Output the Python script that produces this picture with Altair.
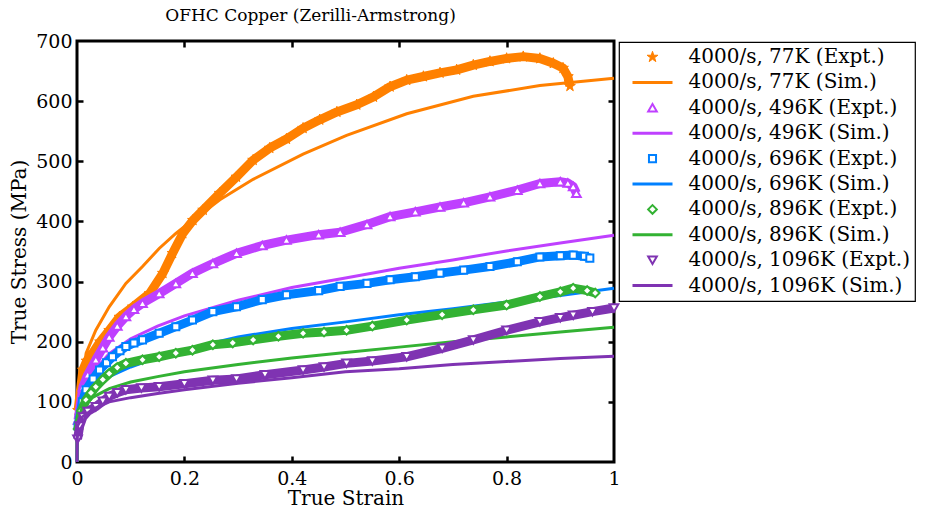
import altair as alt
import pandas as pd

FONT = "DejaVu Serif"
TITLE = "OFHC Copper (Zerilli-Armstrong)"
X_TITLE = "True Strain"
Y_TITLE = "True Stress (MPa)"
x_tick_values = [0, 0.2, 0.4, 0.6, 0.8, 1]
y_tick_values = [0, 100, 200, 300, 400, 500, 600, 700]
x_inner_ticks = [0.2, 0.4, 0.6, 0.8]
y_inner_ticks = [100, 200, 300, 400, 500, 600]

series_labels = [
    "4000/s, 77K (Expt.)", "4000/s, 77K (Sim.)",
    "4000/s, 496K (Expt.)", "4000/s, 496K (Sim.)",
    "4000/s, 696K (Expt.)", "4000/s, 696K (Sim.)",
    "4000/s, 896K (Expt.)", "4000/s, 896K (Sim.)",
    "4000/s, 1096K (Expt.)", "4000/s, 1096K (Sim.)",
]
series_colors = ["#ff8000", "#ff8000", "#bf40ff", "#bf40ff", "#0080ff", "#0080ff",
                 "#33b233", "#33b233", "#7f33b2", "#7f33b2"]
STAR = ("M0,-1L0.2245,-0.309L0.9511,-0.309L0.3633,0.118L0.5878,0.809L0,0.382"
        "L-0.5878,0.809L-0.3633,0.118L-0.9511,-0.309L-0.2245,-0.309Z")
LINE = "M-4,0L4,0"
series_shapes = [STAR, LINE, "triangle-up", LINE, "square", LINE,
                 "diamond", LINE, "triangle-down", LINE]
series_sizes = [130, 100, 75, 100, 50, 100, 75, 100, 75, 100]
series_fills = ["#ff8000", "white", "white", "white", "white", "white",
                "white", "white", "white", "white"]
series_widths = [1, 3, 2, 3, 2, 3, 2, 3, 2, 3]

# 77K
expt_77_strain = [0.002, 0.011, 0.018, 0.029, 0.043, 0.06, 0.079, 0.104, 0.135, 0.16, 0.178, 0.197,
                  0.216, 0.235, 0.266, 0.297, 0.328, 0.359, 0.39, 0.421, 0.452, 0.484, 0.521, 0.552,
                  0.583, 0.614, 0.645, 0.676, 0.707, 0.738, 0.769, 0.8, 0.831, 0.862, 0.887, 0.905,
                  0.914, 0.918]
expt_77_stress = [86, 153, 168, 181, 200, 219, 241, 258, 280, 314, 347, 380,
                  402, 419, 447, 474, 502, 522, 537, 555, 569, 582, 594, 607,
                  624, 635, 641, 647, 652, 660, 666, 671, 674, 671, 663, 655,
                  641, 625]
sim_77_strain = [0, 0.001, 0.006, 0.017, 0.035, 0.06, 0.091, 0.122, 0.153, 0.184, 0.204, 0.266,
                 0.328, 0.421, 0.502, 0.614, 0.738, 0.862, 1.0]
sim_77_stress = [0, 75, 114, 181, 219, 258, 297, 325, 355, 380, 394, 436,
                 470, 512, 543, 579, 608, 626, 638]

# 496K
expt_496_strain = [0.002, 0.011, 0.02, 0.035, 0.048, 0.06, 0.075, 0.091, 0.106, 0.122, 0.153, 0.184,
                   0.215, 0.253, 0.297, 0.345, 0.39, 0.45, 0.49, 0.54, 0.583, 0.63, 0.676, 0.72,
                   0.769, 0.82, 0.862, 0.9, 0.914, 0.924, 0.93]
expt_496_stress = [70, 125, 145, 170, 190, 208, 226, 242, 254, 264, 280, 297,
                   314, 330, 347, 360, 369, 378, 382, 395, 408, 416, 424, 431,
                   441, 452, 463, 466, 464, 458, 447]
sim_496_strain = [0, 0.001, 0.01, 0.03, 0.06, 0.1, 0.15, 0.2, 0.3, 0.4, 0.5, 0.6, 0.7, 0.8, 0.9, 1.0]
sim_496_stress = [0, 75, 115, 150, 180, 205, 226, 243, 269, 290, 306, 322, 336, 351, 364, 377]

# 696K
expt_696_strain = [0.002, 0.01, 0.017, 0.03, 0.042, 0.055, 0.066, 0.08, 0.091, 0.106, 0.122, 0.153,
                   0.184, 0.215, 0.253, 0.297, 0.345, 0.39, 0.45, 0.49, 0.54, 0.583, 0.63, 0.676,
                   0.72, 0.769, 0.82, 0.862, 0.9, 0.924, 0.945, 0.955]
expt_696_stress = [60, 100, 120, 138, 153, 165, 175, 185, 192, 198, 203, 214,
                   225, 236, 250, 258, 270, 278, 285, 292, 297, 303, 308, 314,
                   319, 325, 333, 341, 343, 344, 342, 339]
sim_696_strain = [0, 0.001, 0.01, 0.03, 0.06, 0.1, 0.15, 0.2, 0.3, 0.4, 0.5, 0.6, 0.7, 0.8, 0.9, 1.0]
sim_696_stress = [0, 72, 100, 125, 142, 158, 174, 187, 208, 222, 233, 245, 255, 266, 277, 289]

# 896K
expt_896_strain = [0.002, 0.008, 0.017, 0.026, 0.035, 0.048, 0.06, 0.075, 0.091, 0.122, 0.153, 0.184,
                   0.215, 0.253, 0.29, 0.328, 0.375, 0.421, 0.46, 0.502, 0.55, 0.614, 0.68, 0.738,
                   0.8, 0.862, 0.9, 0.924, 0.95, 0.965]
expt_896_stress = [55, 85, 103, 115, 125, 137, 147, 157, 164, 170, 175, 181,
                   186, 195, 198, 203, 209, 214, 216, 219, 226, 236, 245, 253,
                   261, 275, 283, 289, 285, 281]
sim_896_strain = [0, 0.001, 0.01, 0.03, 0.06, 0.1, 0.15, 0.2, 0.3, 0.4, 0.5, 0.6, 0.7, 0.8, 0.9, 1.0]
sim_896_stress = [0, 70, 90, 108, 122, 133, 142, 150, 162, 173, 182, 191, 200, 208, 216, 224]

# 1096K
expt_1096_strain = [0.001, 0.005, 0.011, 0.02, 0.035, 0.048, 0.06, 0.075, 0.091, 0.12, 0.153, 0.2,
                    0.253, 0.297, 0.35, 0.421, 0.46, 0.502, 0.55, 0.614, 0.68, 0.738, 0.8, 0.862,
                    0.9, 0.924, 0.96, 1.0]
expt_1096_stress = [38, 60, 75, 84, 92, 101, 109, 115, 120, 123, 125, 130,
                    136, 138, 145, 153, 158, 164, 168, 175, 189, 203, 219, 233,
                    240, 244, 250, 256]
sim_1096_strain = [0, 0.001, 0.01, 0.03, 0.06, 0.1, 0.15, 0.2, 0.3, 0.4, 0.5, 0.6, 0.7, 0.8, 0.9, 1.0]
sim_1096_stress = [0, 60, 75, 88, 100, 107, 114, 120, 131, 140, 150, 155, 162, 167, 172, 176]

pairs = [
    (expt_77_strain, expt_77_stress, sim_77_strain, sim_77_stress),
    (expt_496_strain, expt_496_stress, sim_496_strain, sim_496_stress),
    (expt_696_strain, expt_696_stress, sim_696_strain, sim_696_stress),
    (expt_896_strain, expt_896_stress, sim_896_strain, sim_896_stress),
    (expt_1096_strain, expt_1096_stress, sim_1096_strain, sim_1096_stress),
]

PLOT_W, PLOT_H = 537, 421

x_main = alt.X("strain:Q", scale=alt.Scale(domain=[0, 1], nice=False, zero=False),
               axis=alt.Axis(orient="bottom", values=x_tick_values, format=".1~f", ticks=False,
                             domain=False, grid=False, labelFont=FONT, labelFontSize=19,
                             labelColor="black", labelPadding=7, labelFlush=False,
                             title=X_TITLE, titleFont=FONT, titleFontSize=20,
                             titleFontWeight="normal", titleColor="black", titlePadding=0))
y_main = alt.Y("stress:Q", scale=alt.Scale(domain=[0, 700], nice=False),
               axis=alt.Axis(orient="left", values=y_tick_values, format="d", ticks=False,
                             domain=False, grid=False, labelFont=FONT, labelFontSize=19,
                             labelColor="black", labelPadding=5, labelFlush=False,
                             title=Y_TITLE, titleFont=FONT, titleFontSize=20,
                             titleFontWeight="normal", titleColor="black", titlePadding=6))

leg = alt.Legend(title=None, orient="none", legendX=542, legendY=1, padding=5,
                 strokeColor="black", fillColor="white",
                 labelFont=FONT, labelFontSize=20, labelColor="black", labelOffset=26,
                 labelLimit=400, rowPadding=5.4, symbolOffset=18.5)

pt_stroke = alt.Stroke("series:N", scale=alt.Scale(domain=series_labels, range=series_colors),
                       legend=leg)
pt_fill = alt.Fill("series:N", scale=alt.Scale(domain=series_labels, range=series_fills), legend=leg)
pt_shape = alt.Shape("series:N", scale=alt.Scale(domain=series_labels, range=series_shapes),
                     legend=leg)
pt_size = alt.Size("series:N", scale=alt.Scale(type="ordinal", domain=series_labels,
                                               range=series_sizes), legend=leg)
pt_width = alt.StrokeWidth("series:N", scale=alt.Scale(type="ordinal", domain=series_labels,
                                                       range=series_widths), legend=leg)

layers = []
for i, (ex, ey, sx, sy) in enumerate(pairs):
    edf = pd.DataFrame({"strain": ex, "stress": ey, "series": series_labels[2 * i]})
    sdf = pd.DataFrame({"strain": sx, "stress": sy, "series": series_labels[2 * i + 1]})
    layers.append(alt.Chart(edf).mark_line(strokeWidth=9, opacity=1, strokeJoin="round",
                                           stroke=series_colors[2 * i])
                  .encode(x=x_main, y=y_main))
    layers.append(alt.Chart(edf).mark_point(opacity=1)
                  .encode(x=x_main, y=y_main, stroke=pt_stroke, fill=pt_fill, shape=pt_shape,
                          size=pt_size, strokeWidth=pt_width))
    layers.append(alt.Chart(sdf).mark_line(strokeWidth=3, opacity=1,
                                           stroke=series_colors[2 * i + 1])
                  .encode(x=x_main, y=y_main))

data_group = alt.layer(*layers)

tick_df = pd.DataFrame({"strain": [0, 1], "stress": [0, 700]})


def tick_layer(xorient, yorient):
    return alt.Chart(tick_df).mark_point(opacity=0).encode(
        x=alt.X("strain:Q", scale=alt.Scale(domain=[0, 1], nice=False, zero=False),
                axis=alt.Axis(orient=xorient, offset=-PLOT_H, values=x_inner_ticks, labels=False,
                              domain=False, grid=False, ticks=True, tickSize=6, tickWidth=2.5,
                              tickColor="black", title=None)),
        y=alt.Y("stress:Q", scale=alt.Scale(domain=[0, 700], nice=False),
                axis=alt.Axis(orient=yorient, offset=-PLOT_W, values=y_inner_ticks, labels=False,
                              domain=False, grid=False, ticks=True, tickSize=6, tickWidth=2.5,
                              tickColor="black", title=None)),
    )


chart = (
    alt.layer(data_group, tick_layer("top", "right"), tick_layer("bottom", "left"))
    .resolve_scale(x="independent", y="independent")
    .properties(
        width=PLOT_W, height=PLOT_H,
        title=alt.Title(TITLE, font=FONT, fontSize=17, fontWeight="normal", color="black",
                        anchor="middle", dx=-35, offset=7),
        padding={"left": 77, "top": 41, "right": 314, "bottom": 53},
        autosize=alt.AutoSizeParams(type="none"),
    )
    .configure_view(stroke="black", strokeWidth=3)
    .configure_legend(strokeWidth=1.2)
)

chart.save("out.html", embed_options={"renderer": "svg", "actions": False})
